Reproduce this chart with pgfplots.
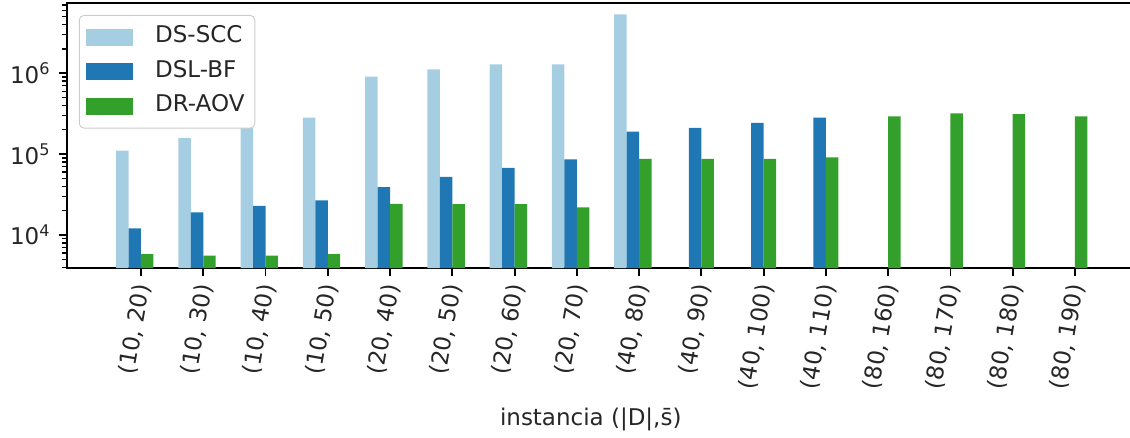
\documentclass[border=0pt]{standalone}
\usepackage{fontspec}
\setmainfont{DejaVu Sans}
\usepackage{pgfplots}
\pgfplotsset{compat=1.18}
\definecolor{cA}{HTML}{A6CEE3}
\definecolor{cB}{HTML}{1F78B4}
\definecolor{cC}{HTML}{33A02C}
\begin{document}
\begin{tikzpicture}
\begin{axis}[
  name=ax,
  scale only axis,
  width=465pt, height=115.3pt,
  xmin=-1.19, xmax=15.98,
  ymode=log, log basis y=10,
  ymin=3914, ymax=7.38e6,
  log origin=infty,
  axis line style={line width=0.8pt},
  tick align=outside,
  tick pos=left,
  major tick length=3.5pt,
  minor tick length=2pt,
  every tick/.style={black, line width=0.8pt},
  minor tick style={line width=0.6pt},
  xtick={0,...,15},
  xticklabels={{(10, 20)},{(10, 30)},{(10, 40)},{(10, 50)},{(20, 40)},{(20, 50)},{(20, 60)},{(20, 70)},{(40, 80)},{(40, 90)},{(40, 100)},{(40, 110)},{(80, 160)},{(80, 170)},{(80, 180)},{(80, 190)}},
  xticklabel style={rotate=80, anchor=east, yshift=-1.5pt, font=\fontsize{10pt}{12pt}\selectfont, text=black!85},
  yticklabel={10\textsuperscript{\pgfmathparse{int(round(\tick))}\pgfmathresult}},
  yticklabel style={font=\fontsize{10pt}{12pt}\selectfont, text=black!85},
  xlabel={instancia (|D|,s̄)},
  xlabel style={at={(axis description cs:0.49,0)}, anchor=base, yshift=-68.3pt, font=\fontsize{10pt}{12pt}\selectfont, text=black!85},
  legend style={at={(rel axis cs:0,1)}, anchor=north west, xshift=5.2pt, yshift=-5.2pt,
    draw=black!20, rounded corners=2pt, fill=white, fill opacity=0.8, text opacity=1,
    font=\fontsize{10pt}{12pt}\selectfont, text=black!85,
    inner xsep=3pt, inner ysep=3pt, row sep=2pt,
    nodes={text height=7.5pt, text depth=2.5pt, inner sep=1.5pt},
    legend cell align=left},
  legend image code/.code={\fill[#1, draw=none, fill opacity=1, sharp corners] (0pt,-3.6pt) rectangle (20.5pt,3.6pt);},
  /tikz/every odd column/.append style={column sep=8pt},
]
\addplot[ybar, bar width=0.2, bar shift=-0.3, fill=cA, draw=none] coordinates {
(0,1.11e5) (1,1.58e5) (2,2.1e5) (3,2.83e5) (4,9.1e5) (5,1.12e6) (6,1.29e6) (7,1.29e6) (8,5.35e6)};
\addlegendentry{DS-SCC}
\addplot[ybar, bar width=0.2, bar shift=-0.1, fill=cB, draw=none] coordinates {
(0,1.21e4) (1,1.91e4) (2,2.3e4) (3,2.68e4) (4,3.92e4) (5,5.25e4) (6,6.78e4) (7,8.6e4) (8,1.9e5) (9,2.11e5) (10,2.43e5) (11,2.83e5)};
\addlegendentry{DSL-BF}
\addplot[ybar, bar width=0.2, bar shift=0.1, fill=cC, draw=none] coordinates {
(0,5.8e3) (1,5.56e3) (2,5.56e3) (3,5.8e3) (4,2.43e4) (5,2.42e4) (6,2.42e4) (7,2.2e4) (8,8.75e4) (9,8.75e4) (10,8.75e4) (11,9.16e4) (12,2.94e5) (13,3.2e5) (14,3.12e5) (15,2.94e5)};
\addlegendentry{DR-AOV}
\end{axis}
\pgfresetboundingbox
\path[use as bounding box] ([xshift=-29.1pt,yshift=-73.5pt]ax.south west) rectangle ([xshift=462.4pt,yshift=1.3pt]ax.north west);
\end{tikzpicture}
\end{document}
